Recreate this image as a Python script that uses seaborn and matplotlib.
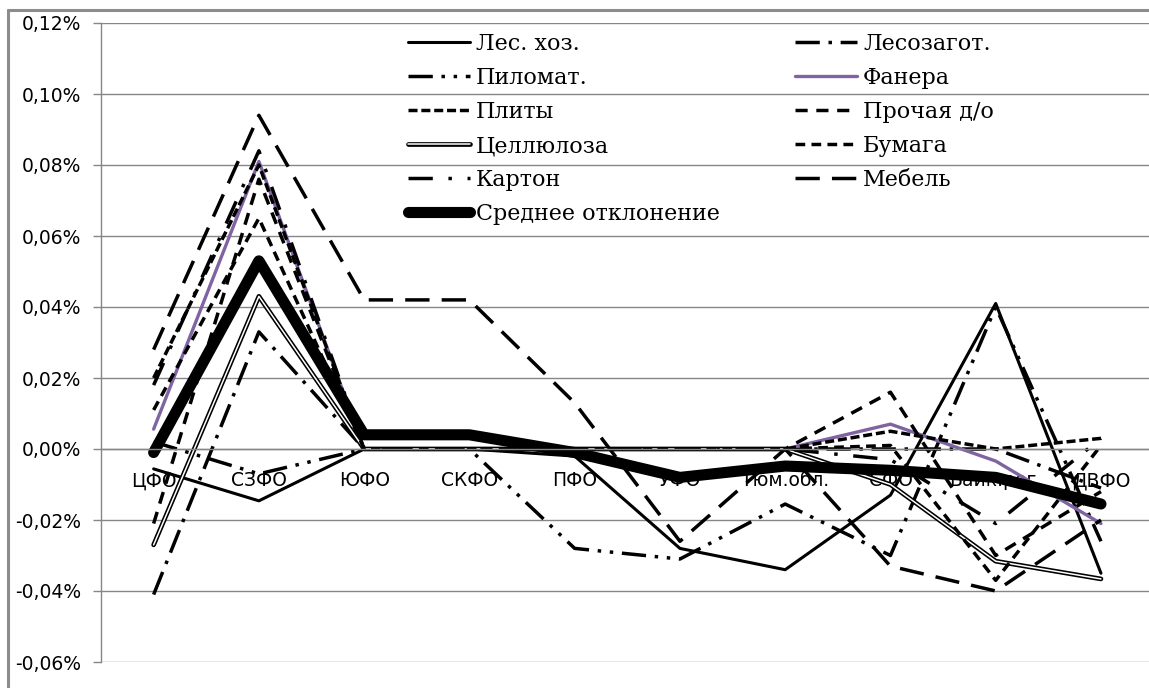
import numpy as np
import pandas as pd
import seaborn as sns
from matplotlib import pyplot as plt
from matplotlib import patheffects as pe
from matplotlib.lines import Line2D

# regions (x categories)
cats = ["ЦФО", "СЗФО", "ЮФО", "СКФО", "ПФО", "УФО", "Тюм.обл.", "СФО", "Байк.рег.", "ДВФО"]

# deviations, in percent
les_hoz = [-0.0056, -0.0146, 0.0, 0.0, -0.002, -0.028, -0.034, -0.013, 0.041, -0.035]
lesozagot = [-0.041, 0.033, 0.0, 0.0, 0.0, 0.0, 0.0, 0.0, 0.0, -0.011]
pilomat = [0.002, -0.007, 0.0, 0.0, -0.028, -0.031, -0.0155, -0.030, 0.040, -0.026]
fanera = [0.0056, 0.081, 0.0, 0.0, 0.0, 0.0, 0.0, 0.007, -0.0034, -0.021]
plity = [0.020, 0.080, 0.0, 0.0, 0.0, 0.0, 0.0, 0.005, 0.0, 0.003]
prochaya = [-0.021, 0.076, 0.0, 0.0, 0.0, 0.0, 0.0, 0.016, -0.030, -0.012]
cellyuloza = [-0.027, 0.043, 0.0, 0.0, 0.0, 0.0, 0.0, -0.010, -0.0316, -0.0366]
bumaga = [0.011, 0.065, 0.0, 0.0, 0.0, 0.0, 0.0, 0.001, -0.037, 0.001]
karton = [0.018, 0.084, 0.0, 0.0, 0.0, 0.0, 0.0, -0.003, -0.021, 0.003]
mebel = [0.028, 0.094, 0.042, 0.042, 0.013, -0.026, 0.0, -0.033, -0.040, -0.020]
srednee = [-0.001, 0.053, 0.004, 0.004, -0.001, -0.008, -0.0048, -0.006, -0.008, -0.0155]

yticks = [-0.06, -0.04, -0.02, 0.0, 0.02, 0.04, 0.06, 0.08, 0.10, 0.12]

series = [
    ("Лес. хоз.", les_hoz),
    ("Лесозагот.", lesozagot),
    ("Пиломат.", pilomat),
    ("Фанера", fanera),
    ("Плиты", plity),
    ("Прочая д/о", prochaya),
    ("Целлюлоза", cellyuloza),
    ("Бумага", bumaga),
    ("Картон", karton),
    ("Мебель", mebel),
    ("Среднее отклонение", srednee),
]

styles = {
    "Лес. хоз.": dict(color="black", lw=2.2, ls="-"),
    "Лесозагот.": dict(color="black", lw=2.5, ls=(0, (7, 2.5, 1, 2.5))),
    "Пиломат.": dict(color="black", lw=2.5, ls=(0, (7, 2.5, 1, 2.5, 1, 2.5))),
    "Фанера": dict(color="#8064A2", lw=2.4, ls="-"),
    "Плиты": dict(color="black", lw=2.5, ls=(0, (2.6, 1.1))),
    "Прочая д/о": dict(color="black", lw=2.5, ls=(0, (3.5, 2.5))),
    "Целлюлоза": dict(color="white", lw=1.1, ls="-"),
    "Бумага": dict(color="black", lw=2.5, ls=(0, (2.8, 1.8))),
    "Картон": dict(color="black", lw=2.5, ls=(0, (7, 4.5, 1, 4.5))),
    "Мебель": dict(color="black", lw=2.5, ls=(0, (7, 3.5))),
    "Среднее отклонение": dict(color="black", lw=8.0, ls="-"),
}

sns.set_theme(style="white")
plt.rcParams["font.family"] = ["DejaVu Sans"]
plt.rcParams["text.color"] = "black"

W, H = 1149, 688
grey = "#868686"
fig = plt.figure(figsize=(W / 100, H / 100), dpi=100)
ax = fig.add_axes([101 / W, 26 / H, (1153.6 - 101) / W, 639 / H])

handles = {}
for name, vals in series:
    d = pd.DataFrame({"region": cats, "value": vals})
    st = styles[name]
    sns.lineplot(data=d, x="region", y="value", ax=ax, color=st["color"],
                 linewidth=st["lw"], linestyle=st["ls"], sort=False, errorbar=None)
    line = ax.lines[-1]
    if name == "Целлюлоза":
        # double line: black outline, white core
        line.set_path_effects([pe.Stroke(linewidth=3.4, foreground="black"), pe.Normal()])
    handles[name] = line

ax.set_xlim(-0.5, 9.5)
ax.set_ylim(-0.06, 0.12)
ax.set_yticks(yticks)
ax.set_yticklabels([f"{v:.2f}%".replace(".", ",") for v in yticks])
ax.set_xticks(range(len(cats)))
ax.set_xticklabels(cats)
ax.set_xticks(np.arange(-0.5, len(cats), 1), minor=True)
ax.set_xlabel("")
ax.set_ylabel("")

ax.tick_params(axis="x", which="major", length=0, pad=16, labelsize=13.5, labelcolor="black")
ax.tick_params(axis="x", which="minor", length=6, width=1, color=grey, direction="out")
ax.tick_params(axis="y", length=6, width=1, color=grey, pad=8.5, labelsize=13.5,
               labelcolor="black", left=True)

ax.spines["bottom"].set_position(("data", 0))
for s in ["bottom", "left"]:
    ax.spines[s].set_color(grey)
    ax.spines[s].set_linewidth(1)
ax.spines["top"].set_visible(False)
ax.spines["right"].set_visible(False)
ax.grid(axis="y", color=grey, linewidth=1)
ax.grid(axis="x", visible=False)
ax.set_axisbelow(True)

order = ["Лес. хоз.", "Пиломат.", "Плиты", "Целлюлоза", "Картон", "Среднее отклонение",
         "Лесозагот.", "Фанера", "Прочая д/о", "Бумага", "Мебель"]
leg = ax.legend([handles[n] for n in order], order, ncol=2, loc="upper left",
                bbox_to_anchor=(408 / W, 1 - 33 / H), bbox_transform=fig.transFigure,
                frameon=False, prop={"family": "DejaVu Serif", "size": 16},
                handlelength=2.8, handletextpad=0.25, columnspacing=3.4,
                labelspacing=0.54, borderpad=0, borderaxespad=0)
for t in leg.get_texts():
    t.set_color("black")

# outer chart border (only left and top are inside the picture)
fig.add_artist(Line2D([8 / W, 8 / W], [0, 1 - 10 / H], transform=fig.transFigure,
                      color="#8c8c8c", linewidth=2.2))
fig.add_artist(Line2D([8 / W, 1], [1 - 10 / H, 1 - 10 / H], transform=fig.transFigure,
                      color="#8c8c8c", linewidth=2.2))

fig.savefig("out.png", dpi=100)
